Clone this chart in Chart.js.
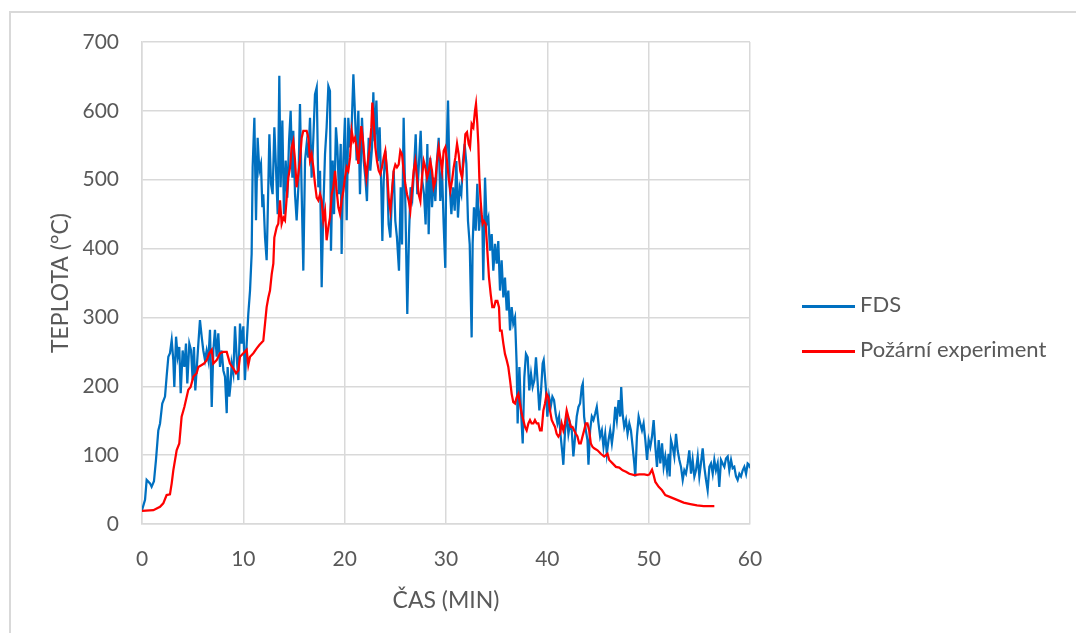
<!DOCTYPE html>
<html>
<head>
<meta charset="utf-8">
<script src="https://cdn.jsdelivr.net/npm/chart.js@4/dist/chart.umd.min.js"></script>
<style>
	body { margin: 0; background: #fff; }
	#wrap { position: relative; width: 1076px; height: 633px; overflow: hidden; }
	#frame { position: absolute; left: 9px; top: 11px; width: 1100px; height: 700px; border: 2px solid #d9d9d9; }
	#myChart { position: absolute; left: 0; top: 0; }
	.k_leg { position: absolute; left: 802px; font-family: Lato, sans-serif; font-size: 22px; color: #595959; white-space: nowrap; }
	.k_leg span { display: inline-block; width: 53px; height: 3px; vertical-align: middle; margin-right: 5px; }
</style>
</head>
<body>
<div id="wrap">
	<div id="frame"></div>
	<canvas id="myChart" width="1076" height="633"></canvas>
	<div class="k_leg" style="top:290px"><span style="background:#0070c0"></span>FDS</div>
	<div class="k_leg" style="top:335px"><span style="background:#ff0000"></span>Požární experiment</div>
</div>
<script>
// ---------------- 데이터 (čas v min / teplota °C) ----------------
var fds_time = [
	0,0.3,0.46,0.79,0.95, 1.18,1.38,1.61,1.78,2.0, 2.27,2.43,2.6,2.76,2.93, 3.09,3.19,3.36,3.52,3.68,
	3.82,4.01,4.18,4.34,4.47, 4.67,4.84,5.0,5.13,5.26, 5.39,5.56,5.72,5.89,6.05, 6.22,6.38,6.55,6.71,6.88,
	7.04,7.2,7.37,7.53,7.7, 7.86,8.03,8.19,8.36,8.45, 8.62,8.75,8.85,9.01,9.18, 9.34,9.51,9.67,9.84,
	10.0,10.16,10.33,10.49,10.66, 10.82,10.92,11.09,11.25,11.41, 11.58,11.74,11.88,11.97,12.14,
	12.3,12.4,12.57,12.73,12.89, 13.06,13.22,13.39,13.55,13.68, 13.85,14.01,14.18,14.34,14.51,
	14.67,14.84,14.93,15.1,15.26, 15.43,15.59,15.76,15.92,16.09, 16.25,16.41,16.58,16.74,16.91,
	17.07,17.24,17.4,17.57,17.73, 17.89,18.06,18.22,18.39,18.55, 18.65,18.82,18.95,19.14,19.28,
	19.44,19.61,19.7,19.87,20.03, 20.2,20.36,20.53,20.69,20.86, 21.02,21.18,21.35,21.51,
	21.71,21.88,22.04,22.2,22.37, 22.53,22.7,22.83,22.96,23.13, 23.29,23.45,23.62,23.72,23.85,
	24.01,24.18,24.34,24.51,24.67, 24.84,25.0,25.16,25.36,25.53, 25.66,25.82,25.99,26.18,26.35,
	26.51,26.68,26.84,27.01,27.17, 27.34,27.5,27.66,27.83,27.99, 28.16,28.29,28.45,28.62,28.78,
	28.95,29.11,29.28,29.44,29.61, 29.77,29.93,30.03,30.2,30.36, 30.53,30.69,30.86,31.02,31.18,
	31.35,31.51,31.68,31.84,32.01, 32.17,32.34,
	32.53,32.63,32.76,32.93,33.09, 33.26,33.42,33.59,33.68,33.85, 34.01,34.18,34.34,34.51,34.67,
	34.84,35.0,35.16,35.33,35.49, 35.66,35.82,35.99,36.15,36.32, 36.48,36.64,36.81,36.97,37.07,
	37.24,37.4,37.57,37.73,37.89, 38.06,38.22,38.39,38.55,38.72, 38.88,39.05,39.21,39.38,39.54,
	39.64,39.87,
	40.0,40.17,40.33,40.5,40.66, 40.83,41.0,41.16,41.32,41.49, 41.58,41.75,41.91,42.08,42.24,
	42.41,42.57,42.74,42.9,43.07, 43.23,43.4,43.5,43.63,43.8, 43.96,44.06,44.22,44.39,44.55,
	44.72,44.88,45.05,45.21,45.38, 45.54,45.71,45.87,46.04,46.2, 46.37,46.53,46.7,46.86,47.03,
	47.19,47.29,47.43,47.59,47.76, 47.92,48.09,48.25,48.42,48.58, 48.68,48.84,49.01,49.17,49.34,
	49.5,49.67,49.84,
	50.0,50.16,50.33,50.49,50.66, 50.82,50.99,51.15,51.32,51.48, 51.64,51.81,51.97,52.07,52.2,
	52.37,52.53,52.7,52.86,53.03, 53.19,53.36,53.52,53.68,53.85, 54.01,54.18,54.34,54.51,54.67,
	54.84,55.0,55.16,55.33,55.49, 55.66,55.82,55.99,56.15,56.32, 56.48,56.64,56.81,56.97,57.14,
	57.3,57.47,57.63,57.8,57.96, 58.13,58.29,58.45,58.62,58.78, 58.95,59.11,59.28,59.44,59.61,
	59.77,59.93,60.0
];
var fds_temp = [
	20,35,64,59,54, 62,93,136,146,175, 185,214,243,248,267, 238,199,272,243,257,
	190,252,228,262,204, 262,252,209,257,194, 223,262,296,272,252, 238,252,238,282,170,
	252,282,243,277,228, 252,223,214,161,228, 185,204,233,219,287, 243,209,291,262,
	287,209,262,305,339, 392,518,590,441,561, 513,523,460,479,416,
	383,445,566,494,479, 576,518,450,651,489, 586,450,528,474,556,
	600,503,571,479,441, 489,610,479,368,528, 552,532,590,503,561,
	624,634,489,513,344, 455,537,576,636,629, 397,528,450,576,547,
	479,552,392,528,590, 441,590,547,576,653, 595,528,600,479,
	590,527,503,469,561, 513,547,627,556,615, 527,576,484,411,498,
	542,508,435,416,479, 513,440,416,368,489, 406,590,464,305,421,
	489,474,513,566,479, 527,571,498,479,435, 552,421,532,460,503,
	469,527,561,469,513, 435,372,527,615,493, 450,489,455,527,445,
	489,479,527,552,523, 440,406,
	271,407,460,426,494, 426,455,436,354,503, 436,445,397,421,368,
	407,378,411,339,383, 329,358,310,339,281, 315,291,300,233,146,
	228,165,117,213,247, 242,194,218,199,209, 242,204,165,194,233,
	238,194,
	156,185,170,185,180, 160,146,156,127,102, 86,136,160,131,146,
	136,98,127,156,170, 175,199,204,156,136, 122,86,136,156,151,
	160,170,146,127,136, 112,131,102,122,136, 117,136,170,151,180,
	156,199,160,141,151, 131,146,136,112,88, 69,127,156,146,136,
	146,122,93,
	122,112,127,151,112, 83,122,88,117,83, 98,78,102,69,122,
	112,98,131,107,93, 83,64,78,73,88, 107,73,93,69,78,
	98,69,88,110,83, 64,49,83,88,73, 93,78,88,54,93,
	88,83,95,98,78, 93,81,83,69,64, 73,69,78,83,73,
	88,86,81
];

var exp_time = [
	0,1.12,1.78,2.1,2.43, 2.76,2.93,3.09,3.42,3.68, 3.91,4.18,4.57,4.8,5.07, 5.39,5.56,5.89,6.12,6.38,
	6.64,6.88,7.04,7.37,7.7, 8.03,8.36,8.68,9.01,9.28, 9.51,9.67,10.0,10.33,10.49, 10.66,10.99,11.32,11.58,11.97,
	12.14,12.3,12.47,12.63,12.8, 12.96,13.06,13.29,13.45,13.62, 13.78,13.95,14.11,14.28,14.44,
	14.61,14.77,14.93,15.1,15.26, 15.43,15.59,15.76,15.92,16.25, 16.41,16.58,16.74,16.91,17.07,
	17.24,17.4,17.57,17.73,17.89, 18.06,18.22,18.39,18.55,18.72, 18.88,19.05,19.21,19.38,19.54,
	19.7,19.87,20.03,20.2,20.36, 20.53,20.69,20.86,21.02,21.18, 21.35,
	21.64,21.81,21.97,22.14,22.3, 22.47,22.63,22.73,22.86,23.03, 23.19,23.36,23.52,23.68,23.85,
	24.01,24.18,24.34,24.51,24.67, 24.84,25.0,25.16,25.33,25.49, 25.66,25.82,25.99,26.15,26.32,
	26.48,26.64,26.81,26.97,27.14, 27.3,27.47,27.63,27.8,27.96, 28.13,28.29,28.45,28.62,28.78,
	28.95,29.11,29.28,29.44,29.61, 29.77,29.93,30.1,30.26,30.43, 30.59,30.76,30.92,31.09,31.25,
	31.41,31.58,31.74,31.91,32.07, 32.24,
	32.37,32.53,32.7,32.86,32.96, 33.09,33.19,33.29,33.42,33.52, 33.62,33.75,33.91,34.08,34.24,
	34.41,34.57,34.74,34.9,35.07, 35.23,35.33,35.49,35.66,35.82, 35.99,36.15,36.32,36.48,36.64,
	36.81,36.97,37.14,37.3,37.47, 37.63,37.8,37.96,38.13,38.29, 38.45,38.62,38.78,38.95,39.11,
	39.28,39.44,39.61,39.77,39.93, 40.1,40.26,40.43,40.59,40.76, 40.92,41.09,41.25,41.41,41.58,
	41.74,41.91,
	42.15,42.31,42.48,42.64,42.81, 42.97,43.14,43.3,43.47,43.63, 43.8,43.96,44.13,44.29,44.46,
	44.62,44.95,45.28,45.61,45.94, 46.11,46.44,46.77,47.1,47.43, 47.76,48.09,48.58,49.08,49.57,
	49.9,50.07,50.33,
	50.49,50.66,50.99,51.32,51.64, 52.14,52.8,53.45,54.11,54.77, 55.43,56.09,56.48
];
var exp_temp = [
	19,20,25,30,42, 43,59,78,107,117, 156,170,195,199,214, 219,228,231,233,238,
	248,253,233,238,248, 250,250,233,226,219, 223,243,248,253,231, 243,248,255,260,266,
	291,315,329,339,363, 378,416,431,436,470, 436,445,441,474,503,
	518,547,556,528,489, 508,528,561,571,571, 561,528,537,518,494,
	474,470,479,470,441, 455,412,431,445,479, 489,513,484,460,450,
	470,484,503,518,513, 532,571,556,561,547, 523,
	578,556,527,503,527, 547,576,612,585,547, 527,513,508,518,532,
	542,513,474,455,484, 513,522,518,522,542, 537,513,493,479,469,
	455,484,513,527,503, 479,469,503,527,518, 503,513,527,513,489,
	498,527,547,532,513, 542,547,527,503,484, 498,518,532,552,537,
	513,503,527,566,569, 552,
	547,581,576,600,610, 581,552,503,469,450, 436,440,436,397,358,
	334,315,315,324,324, 315,281,281,262,247, 238,228,209,189,177,
	175,184,189,175,160, 151,141,136,146,151, 146,146,151,146,146,
	136,136,165,175,189, 184,165,151,146,141, 131,127,131,146,136,
	146,165,
	151,141,141,136,131, 127,117,117,127,136, 146,146,136,117,112,
	110,107,102,98,102, 93,88,83,82,78, 76,73,71,72,72,
	71,72,79,
	71,61,54,49,42, 39,35,31,29,27, 26,26,26
];

var x_ticks = [0, 10, 20, 30, 40, 50, 60];
var y_ticks = [0, 100, 200, 300, 400, 500, 600, 700];
var series_names = ["FDS", "Požární experiment"];
var x_title = "ČAS (MIN)";
var y_title = "TEPLOTA (°C)";

// x,y 쌍 만들기
function make_points(xs, ys) {
	var n = Math.min(xs.length, ys.length);
	var out = [];
	for (let i = 0; i < n; i++) {
		out.push({x: xs[i], y: ys[i]});
	}
	return out;
}

const ctx = document.getElementById('myChart').getContext('2d');
var grid_color = '#d9d9d9';
var text_color = '#595959';

const myChart = new Chart(ctx, {
	type: 'line',
	data: {
		datasets: [{
			label: series_names[0],
			data: make_points(fds_time, fds_temp),
			borderColor: '#0070c0',
			borderWidth: 2.25,
			pointRadius: 0,
			tension: 0,
			fill: false,
			order: 1
		}, {
			label: series_names[1],
			data: make_points(exp_time, exp_temp),
			borderColor: '#ff0000',
			borderWidth: 2.25,
			pointRadius: 0,
			tension: 0,
			fill: false,
			order: 0
		}]
	},
	options: {
		responsive: false,
		animation: false,
		layout: { padding: { left: 0, top: 42, right: 326, bottom: 0 } },
		plugins: {
			legend: { display: false },
			tooltip: { enabled: false }
		},
		scales: {
			x: {
				type: 'linear',
				min: x_ticks[0],
				max: x_ticks[x_ticks.length - 1],
				afterFit: function(scale) { scale.height = 109; },
				afterBuildTicks: function(scale) { scale.ticks = x_ticks.map(v => ({value: v})); },
				grid: { color: grid_color, lineWidth: 1.5, drawTicks: false },
				border: { color: grid_color, width: 1.5 },
				ticks: { color: text_color, padding: 23, font: { family: 'Lato', size: 21 } },
				title: {
					display: true,
					text: x_title,
					color: text_color,
					font: { family: 'Lato', size: 23 },
					padding: { top: 0, bottom: 19 }
				}
			},
			y: {
				min: y_ticks[0],
				max: y_ticks[y_ticks.length - 1],
				afterFit: function(scale) { scale.width = 142; },
				afterBuildTicks: function(scale) { scale.ticks = y_ticks.map(v => ({value: v})); },
				grid: { color: grid_color, lineWidth: 1.5, drawTicks: false },
				border: { color: grid_color, width: 1.5 },
				ticks: { color: text_color, padding: 23, font: { family: 'Lato', size: 21 } },
				title: {
					display: true,
					text: y_title,
					color: text_color,
					font: { family: 'Lato', size: 23 },
					padding: { top: 47, bottom: 0 }
				}
			}
		}
	}
});
</script>
</body>
</html>
